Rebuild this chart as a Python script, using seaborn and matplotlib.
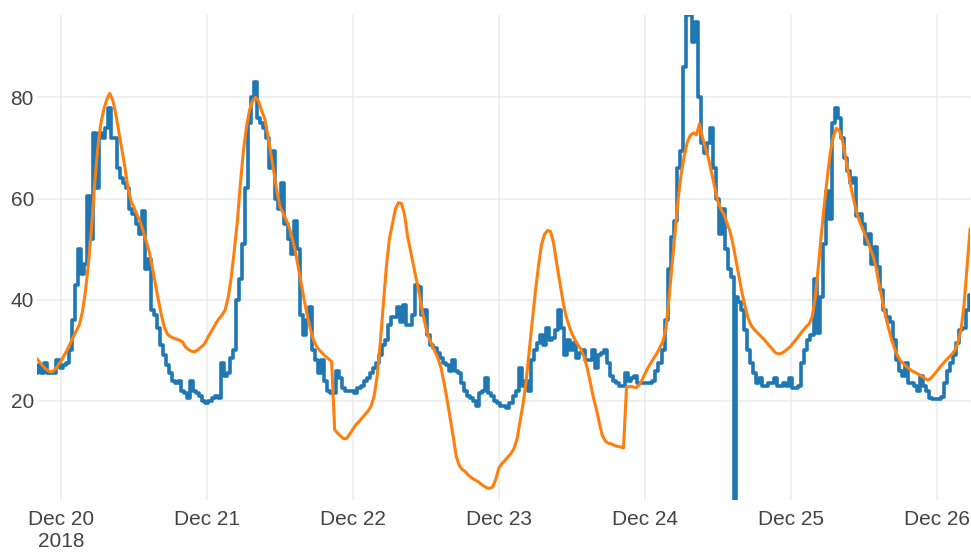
import pandas as pd
import matplotlib
matplotlib.use("Agg")
import matplotlib.pyplot as plt
import seaborn as sns

# Half-hourly readings starting Dec 19, 20:00
start_time = "2018-12-19 20:00"
step = "30min"

observed = [
    25.5, 27, 25.5, 27.5, 25.5, 25.5, 25.5, 28, 26.5, 27, 27.5, 30,
    36, 43, 50, 45, 47, 60.5, 52, 73, 62, 73, 72, 74,
    78, 72, 72, 66, 64, 63, 62, 58, 57, 55, 53, 57.5,
    46, 48, 38, 37, 34.5, 31, 29, 27, 25.5, 24, 23.5, 24,
    22, 21.5, 20.5, 24, 22, 21.5, 21, 20, 19.5, 20, 20.5, 21,
    20.5, 27.5, 25, 25.5, 28.5, 30, 40, 44, 51, 62, 75, 80,
    83, 76, 75, 74, 72, 66, 69.5, 60, 58, 63, 55, 52,
    49, 55.5, 50, 37, 33, 36, 38.5, 30, 28, 25.5, 28, 24,
    22, 21.5, 21.5, 26, 24.5, 22.5, 22, 22, 22, 21.5, 22.5, 23,
    24, 24.5, 25.5, 26.5, 27.5, 29, 31, 32, 35, 36.5, 36.5, 38.5,
    35.5, 39, 35, 35, 37, 43, 42.5, 37, 38, 33, 31, 30.5,
    29.5, 28.5, 27.5, 27, 26, 28, 26, 25.5, 23.5, 22, 21, 20.5,
    20, 19, 21.5, 22, 24.5, 21.5, 21, 20, 19.5, 19, 19, 18.5,
    19.5, 21, 22, 26.5, 23, 24, 22, 28, 30, 31.5, 33, 31,
    34.5, 32, 32.5, 34, 38, 34.5, 29, 32, 30, 31.5, 28.5, 29.5,
    30, 28, 28, 30, 26.5, 29, 29.5, 30, 27.5, 25, 24, 23.5,
    23, 23, 25.5, 24, 24.5, 25, 23.5, 23.5, 23.5, 23.5, 23.5, 24,
    26, 27.5, 30, 36, 46, 52.5, 55.5, 66, 69.5, 86, 96.3, 96.3,
    91, 95, 80, 71, 69, 71, 74, 66, 60, 53, 58, 50,
    46, 44.5, 40.5, 39.5, 38, 34, 30, 27.5, 25.5, 23.5, 24.5, 23,
    23, 23.5, 23.5, 24.5, 23, 23, 23.5, 23, 24.5, 22.5, 22.5, 23,
    27.5, 30, 32, 33, 44, 33.5, 40.5, 51, 61.5, 56, 75, 78,
    76, 72, 68, 65.5, 63, 64, 56.5, 57, 55, 51, 53, 47,
    50.5, 46.5, 42, 38, 36.5, 35.5, 32, 28, 26, 25, 27.5, 23.5,
    23.5, 23, 22, 25, 23, 22, 20.5, 20.3, 20.3, 20.3, 20.7, 23.5,
    26, 27.5, 29, 31.5, 34, 34.5, 38, 41,
]

forecast = [
    28.4, 27.6, 26.9, 26.3, 25.9, 25.7, 26.2, 27.0, 27.8, 29.0, 30.0, 31.3,
    32.6, 33.8, 35.0, 37.5, 41.5, 47.0, 53.8, 62.5, 69.5, 74.5, 77.5, 79.5,
    80.8, 79.5, 76.8, 73.2, 69.8, 66.2, 62.2, 59.5, 58.2, 56.8, 55.5, 53.6,
    51.6, 49.5, 46.5, 43.2, 40.0, 37.0, 34.5, 33.2, 32.7, 32.4, 32.2, 32.0,
    31.6, 30.6, 30.1, 29.8, 29.7, 30.1, 30.6, 31.1, 32.2, 33.3, 34.3, 35.4,
    36.3, 37.0, 38.0, 40.5, 44.5, 49.8, 55.5, 63.0, 69.5, 74.2, 77.5, 79.3,
    80.0, 79.2, 77.3, 75.8, 72.6, 69.0, 65.2, 61.5, 58.4, 57.2, 55.9, 54.4,
    52.3, 49.8, 46.5, 43.2, 39.9, 36.8, 34.2, 32.1, 30.8, 30.0, 29.4, 28.8,
    28.3, 27.8, 14.3, 13.6, 13.0, 12.5, 12.6, 13.5, 14.4, 15.3, 15.9, 16.6,
    17.3, 18.0, 19.0, 21.0, 25.0, 31.5, 39.0, 46.5, 52.0, 55.0, 58.0, 59.2,
    59.0, 56.8, 52.5, 49.5, 46.6, 43.6, 40.6, 37.2, 34.5, 32.4, 31.1, 29.8,
    28.4, 26.5, 23.5, 20.2, 16.6, 12.9, 9.0, 7.2, 6.4, 6.0, 5.3, 4.8,
    4.4, 4.1, 3.6, 3.2, 2.8, 2.7, 3.0, 4.5, 6.7, 7.6, 8.2, 8.9,
    9.6, 10.6, 12.5, 16.0, 19.5, 24.0, 30.0, 35.8, 41.5, 46.5, 50.8, 52.9,
    53.7, 53.5, 51.2, 47.3, 43.6, 40.0, 37.0, 35.0, 33.3, 32.1, 31.1, 30.2,
    28.8, 26.7, 23.9, 20.9, 18.6, 15.8, 13.2, 12.1, 11.6, 11.5, 11.2, 11.0,
    10.9, 10.7, 22.8, 22.8, 22.8, 22.6, 23.0, 24.0, 25.3, 26.5, 27.5, 28.5,
    29.4, 30.6, 31.8, 34.5, 40.5, 47.0, 53.5, 60.0, 65.0, 68.5, 71.2, 72.5,
    73.0, 72.6, 74.8, 72.0, 70.0, 67.8, 65.0, 62.2, 59.5, 58.0, 56.9, 55.2,
    53.6, 51.0, 47.8, 44.5, 41.3, 38.6, 36.3, 34.9, 34.1, 33.5, 32.9, 32.3,
    31.6, 30.9, 30.2, 29.5, 29.3, 29.4, 29.8, 30.3, 30.8, 31.6, 32.3, 33.1,
    33.9, 34.6, 35.2, 36.5, 40.0, 46.0, 52.5, 58.5, 64.0, 69.0, 72.2, 73.9,
    73.4, 71.5, 68.3, 65.0, 61.7, 59.0, 56.6, 54.9, 53.5, 52.0, 50.4, 48.8,
    46.6, 43.3, 40.3, 37.3, 34.8, 32.5, 30.6, 29.1, 28.0, 27.4, 26.8, 26.3,
    25.9, 25.6, 25.3, 24.9, 24.5, 24.1, 24.4, 25.1, 25.8, 26.6, 27.3, 28.0,
    28.6, 29.2, 30.0, 31.6, 34.0, 39.0, 46.5, 54.0,
]

# Single sensor dropout between two regular readings
dropout_time = ["2018-12-24 14:54"]
dropout_value = [0.4]

tick_days = ["2018-12-20", "2018-12-21", "2018-12-22", "2018-12-23",
             "2018-12-24", "2018-12-25", "2018-12-26"]
tick_labels = ["Dec 20\n2018", "Dec 21", "Dec 22", "Dec 23",
               "Dec 24", "Dec 25", "Dec 26"]
y_ticks = [20, 40, 60, 80]
y_range = (0.4, 96.3)

# Assemble frames
obs_df = pd.DataFrame({
    "time": pd.date_range(start_time, periods=len(observed), freq=step),
    "value": observed,
})
obs_df = pd.concat([
    obs_df,
    pd.DataFrame({"time": pd.to_datetime(dropout_time), "value": dropout_value}),
]).sort_values("time").reset_index(drop=True)

fc_df = pd.DataFrame({
    "time": pd.date_range(start_time, periods=len(forecast), freq=step),
    "value": forecast,
})

sns.set_theme(style="white")
plt.rcParams["font.family"] = ["Liberation Sans", "DejaVu Sans"]

fig = plt.figure(figsize=(9.71, 5.55), dpi=100)
ax = fig.add_axes([36.7 / 971, 55 / 555, 933.4 / 971, 485 / 555])

# Observed readings are quantised, so draw them as a stepped trace
sns.lineplot(data=obs_df, x="time", y="value", ax=ax, color="#1f77b4",
             linewidth=2.6, estimator=None, sort=False, legend=False,
             drawstyle="steps-mid")
sns.lineplot(data=fc_df, x="time", y="value", ax=ax, color="#ff7f0e",
             linewidth=2.2, estimator=None, sort=False, legend=False)

ax.set_xlim(obs_df["time"].min(), fc_df["time"].max())
ax.set_ylim(*y_range)

ax.set_xticks(pd.to_datetime(tick_days))
ax.set_xticklabels(tick_labels)
ax.set_yticks(y_ticks)
ax.set_yticklabels([str(v) for v in y_ticks])

ax.tick_params(axis="both", length=0, labelsize=15, labelcolor="#444444")
ax.tick_params(axis="x", pad=7)
ax.tick_params(axis="y", pad=2)

ax.grid(True, color="#ebebeb", linewidth=1.1)
ax.set_axisbelow(True)
for spine in ax.spines.values():
    spine.set_visible(False)

ax.set_xlabel("")
ax.set_ylabel("")

fig.savefig("out.png", dpi=100)
